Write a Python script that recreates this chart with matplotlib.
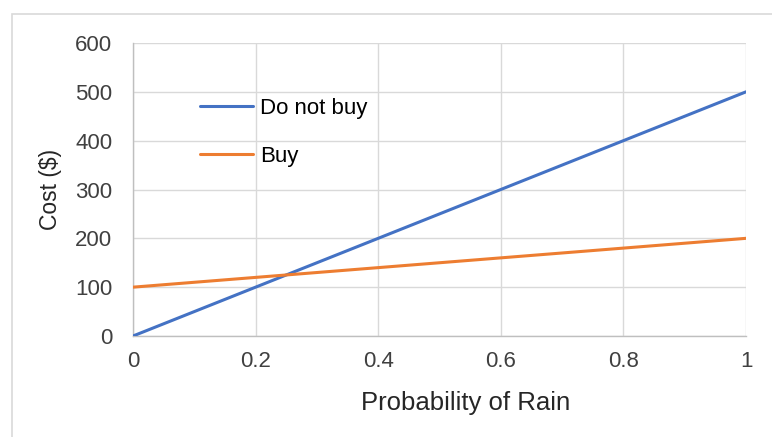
import matplotlib
matplotlib.use("Agg")
import matplotlib.pyplot as plt
from matplotlib.patches import Rectangle

# Expected cost of buying vs. not buying an umbrella
prob_rain = [0, 0.2, 0.4, 0.6, 0.8, 1.0]
cost_do_not_buy = [0, 100, 200, 300, 400, 500]
cost_buy = [100, 120, 140, 160, 180, 200]
x_ticks = [0, 0.2, 0.4, 0.6, 0.8, 1]
x_tick_labels = ["0", "0.2", "0.4", "0.6", "0.8", "1"]
y_ticks = [0, 100, 200, 300, 400, 500, 600]

plt.rcParams["font.family"] = ["Liberation Sans", "DejaVu Sans"]

W, H = 772, 437
fig = plt.figure(figsize=(W / 100, H / 100), dpi=100)
fig.patch.set_facecolor("white")

# chart-area outline
fig.add_artist(Rectangle((12 / W, -0.1), 1.2, 1 - 14 / H + 0.1,
                         transform=fig.transFigure, fill=False,
                         edgecolor="#d9d9d9", linewidth=1.2))

ax = fig.add_axes([133 / W, 1 - 336 / H, (746 - 133) / W, (336 - 43) / H])

blue = "#4472C4"
orange = "#ED7D31"
ax.plot(prob_rain, cost_do_not_buy, color=blue, lw=2.2, label="Do not buy",
        solid_capstyle="round", zorder=3)
ax.plot(prob_rain, cost_buy, color=orange, lw=2.2, label="Buy",
        solid_capstyle="round", zorder=3)

ax.set_xlim(0, 1)
ax.set_ylim(0, 600)
ax.set_xticks(x_ticks)
ax.set_xticklabels(x_tick_labels)
ax.set_yticks(y_ticks)

ax.grid(True, color="#d9d9d9", lw=1.0)
ax.set_axisbelow(True)
for side in ("top", "right"):
    ax.spines[side].set_visible(False)
for side in ("left", "bottom"):
    ax.spines[side].set_color("#bfbfbf")
    ax.spines[side].set_linewidth(1.0)

ax.tick_params(length=0, labelsize=16, labelcolor="#404040")
ax.tick_params(axis="x", pad=11)
ax.tick_params(axis="y", pad=15)

ax.set_xlabel("Probability of Rain", fontsize=18.5, color="#262626", va="baseline")
ax.xaxis.set_label_coords(0.543, -0.2526)
ax.set_ylabel("Cost ($)", fontsize=16.5, color="#262626", va="center")
ax.yaxis.set_label_coords(-0.135, 0.5)

ax.legend(loc="upper left", bbox_to_anchor=(0.1093, 0.812), frameon=False,
          fontsize=16, handlelength=2.4, handletextpad=0.32,
          labelspacing=1.2, borderpad=0, borderaxespad=0)

fig.savefig("out.png", dpi=100)
